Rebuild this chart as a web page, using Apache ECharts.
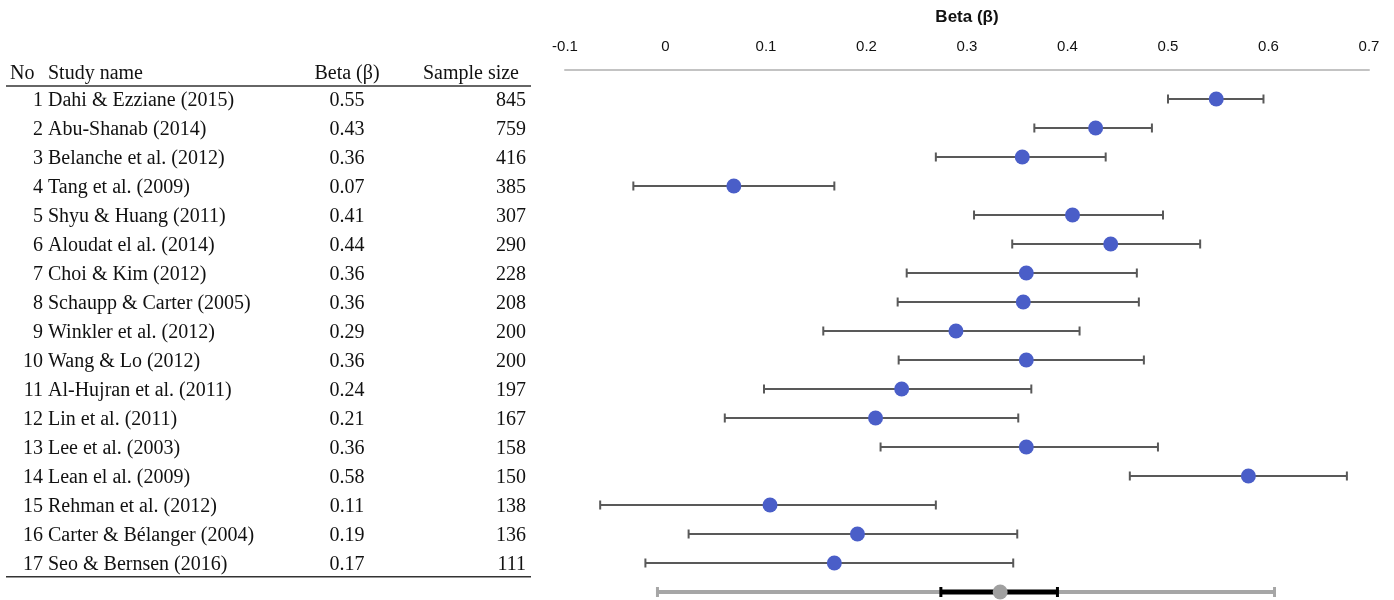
<!doctype html>
<html>
<head>
<meta charset="utf-8">
<title>Forest plot - Beta</title>
<script src="https://cdn.jsdelivr.net/npm/echarts@6/dist/echarts.min.js"></script>
<style>
    html, body { margin: 0; padding: 0; background: #fff; }
    #main { width: 1394px; height: 600px; }
</style>
</head>
<body>
<div id="main"></div>
<script>
// table columns
var studyNames = [
    'Dahi & Ezziane (2015)', 'Abu-Shanab (2014)', 'Belanche et al. (2012)', 'Tang et al. (2009)',
    'Shyu & Huang (2011)', 'Aloudat el al. (2014)', 'Choi & Kim (2012)', 'Schaupp & Carter (2005)',
    'Winkler et al. (2012)', 'Wang & Lo (2012)', 'Al-Hujran et al. (2011)', 'Lin et al. (2011)',
    'Lee et al. (2003)', 'Lean el al. (2009)', 'Rehman et al. (2012)', 'Carter & Bélanger (2004)',
    'Seo & Bernsen (2016)'
];
var betaLabels = ['0.55', '0.43', '0.36', '0.07', '0.41', '0.44', '0.36', '0.36', '0.29', '0.36',
    '0.24', '0.21', '0.36', '0.58', '0.11', '0.19', '0.17'];
var sampleSizes = [845, 759, 416, 385, 307, 290, 228, 208, 200, 200, 197, 167, 158, 150, 138, 136, 111];
var headers = ['No', 'Study name', 'Beta (β)', 'Sample size'];

// plotted estimates and intervals
var pointBeta = [0.548, 0.428, 0.355, 0.068, 0.405, 0.443, 0.359, 0.356, 0.289, 0.359,
    0.235, 0.209, 0.359, 0.580, 0.104, 0.191, 0.168];
var ciLow = [0.500, 0.367, 0.269, -0.032, 0.307, 0.345, 0.240, 0.231, 0.157, 0.232,
    0.098, 0.059, 0.214, 0.462, -0.065, 0.023, -0.020];
var ciHigh = [0.595, 0.484, 0.438, 0.168, 0.495, 0.532, 0.469, 0.471, 0.412, 0.476,
    0.364, 0.351, 0.490, 0.678, 0.269, 0.350, 0.346];

// pooled estimate
var pooledBeta = 0.333;
var pooledCi = [0.274, 0.390];
var pooledPi = [-0.008, 0.606];

var xMin = -0.1, xMax = 0.7, xStep = 0.1;
var rowCount = 18.2;

var chart = echarts.init(document.getElementById('main'));

var serif = '"Liberation Serif", "Times New Roman", serif';
var sans = '"Liberation Sans", Arial, sans-serif';

var tableData = studyNames.map(function (name, i) {
    return [i + 1, i + 1, name, betaLabels[i], sampleSizes[i]];
});
var ciData = ciLow.map(function (lo, i) {
    return [lo, ciHigh[i], i + 1];
});
var pointData = pointBeta.map(function (b, i) {
    return [b, i + 1];
});
var pooledRow = studyNames.length + 1;

function textEl(x, y, text, align) {
    return {
        type: 'text',
        x: x,
        y: y + 2,
        style: {
            text: text,
            font: '20px ' + serif,
            fill: '#111',
            align: align,
            verticalAlign: 'middle'
        }
    };
}

function whisker(lo, hi, color, width, cap) {
    return [
        { type: 'line', shape: { x1: lo[0], y1: lo[1], x2: hi[0], y2: hi[1] }, style: { stroke: color, lineWidth: width } },
        { type: 'line', shape: { x1: lo[0], y1: lo[1] - cap, x2: lo[0], y2: lo[1] + cap }, style: { stroke: color, lineWidth: 2 } },
        { type: 'line', shape: { x1: hi[0], y1: hi[1] - cap, x2: hi[0], y2: hi[1] + cap }, style: { stroke: color, lineWidth: 2 } }
    ];
}

chart.setOption({
    animation: false,
    grid: [
        { left: 565, right: 25, top: 70, height: 29 * rowCount },
        { left: 0, width: 540, top: 70, height: 29 * rowCount }
    ],
    xAxis: [{
        type: 'value',
        gridIndex: 0,
        position: 'top',
        min: xMin,
        max: xMax,
        interval: xStep,
        name: 'Beta (β)',
        nameLocation: 'middle',
        nameGap: 44,
        nameTextStyle: { fontFamily: sans, fontSize: 17, fontWeight: 'bold', color: '#111' },
        axisLine: { show: true, lineStyle: { color: '#c3c3c3', width: 2 } },
        axisTick: { show: false },
        splitLine: { show: false },
        axisLabel: { fontFamily: sans, fontSize: 15, color: '#111', margin: 16 }
    }, {
        type: 'value',
        gridIndex: 1,
        min: 0,
        max: 540,
        show: false
    }],
    yAxis: [{
        type: 'value',
        gridIndex: 0,
        min: 0,
        max: rowCount,
        inverse: true,
        show: false
    }, {
        type: 'value',
        gridIndex: 1,
        min: 0,
        max: rowCount,
        inverse: true,
        show: false
    }],
    series: [{
        type: 'custom',
        xAxisIndex: 1,
        yAxisIndex: 1,
        data: tableData,
        renderItem: function (params, api) {
            var row = api.value(0);
            var y = api.coord([0, row])[1];
            var i = params.dataIndex;
            return {
                type: 'group',
                children: [
                    textEl(api.coord([43, row])[0], y, String(tableData[i][1]), 'right'),
                    textEl(api.coord([48, row])[0], y, tableData[i][2], 'left'),
                    textEl(api.coord([347, row])[0], y, tableData[i][3], 'center'),
                    textEl(api.coord([526, row])[0], y, String(tableData[i][4]), 'right')
                ]
            };
        }
    }, {
        // header and rules of the table
        type: 'custom',
        xAxisIndex: 1,
        yAxisIndex: 1,
        data: [[0.07]],
        renderItem: function (params, api) {
            var y = api.coord([0, api.value(0)])[1];
            var r1 = api.coord([6, 0.55]);
            var r2 = api.coord([531, 0.55]);
            var b1 = api.coord([6, studyNames.length + 0.47]);
            var b2 = api.coord([531, studyNames.length + 0.47]);
            return {
                type: 'group',
                children: [
                    textEl(api.coord([10, 0])[0], y, headers[0], 'left'),
                    textEl(api.coord([48, 0])[0], y, headers[1], 'left'),
                    textEl(api.coord([347, 0])[0], y, headers[2], 'center'),
                    textEl(api.coord([519, 0])[0], y, headers[3], 'right'),
                    { type: 'line', shape: { x1: r1[0], y1: r1[1], x2: r2[0], y2: r2[1] }, style: { stroke: '#333', lineWidth: 1.5 } },
                    { type: 'line', shape: { x1: b1[0], y1: b1[1], x2: b2[0], y2: b2[1] }, style: { stroke: '#333', lineWidth: 1.5 } }
                ]
            };
        }
    }, {
        type: 'custom',
        data: ciData,
        encode: { x: [0, 1], y: 2 },
        renderItem: function (params, api) {
            var lo = api.coord([api.value(0), api.value(2)]);
            var hi = api.coord([api.value(1), api.value(2)]);
            return { type: 'group', children: whisker(lo, hi, '#595959', 2, 4.5) };
        },
        z: 2
    }, {
        type: 'scatter',
        data: pointData,
        symbol: 'circle',
        symbolSize: 15,
        itemStyle: { color: '#4a5ec8', opacity: 1 },
        z: 3
    }, {
        type: 'custom',
        data: [[pooledPi[0], pooledPi[1], pooledCi[0], pooledCi[1], pooledRow]],
        encode: { x: [0, 1, 2, 3], y: 4 },
        renderItem: function (params, api) {
            var row = api.value(4);
            var p1 = api.coord([api.value(0), row]);
            var p2 = api.coord([api.value(1), row]);
            var c1 = api.coord([api.value(2), row]);
            var c2 = api.coord([api.value(3), row]);
            var gray = whisker(p1, p2, '#a6a6a6', 4, 5);
            gray[1].style.lineWidth = 3;
            gray[2].style.lineWidth = 3;
            var black = whisker(c1, c2, '#000', 5, 5);
            black[1].style.lineWidth = 3;
            black[2].style.lineWidth = 3;
            return { type: 'group', children: gray.concat(black) };
        },
        z: 2
    }, {
        type: 'scatter',
        data: [[pooledBeta, pooledRow]],
        symbol: 'circle',
        symbolSize: 15,
        itemStyle: { color: '#a0a0a0', opacity: 1 },
        z: 3
    }]
});

window.onresize = chart.resize;
</script>
</body>
</html>
